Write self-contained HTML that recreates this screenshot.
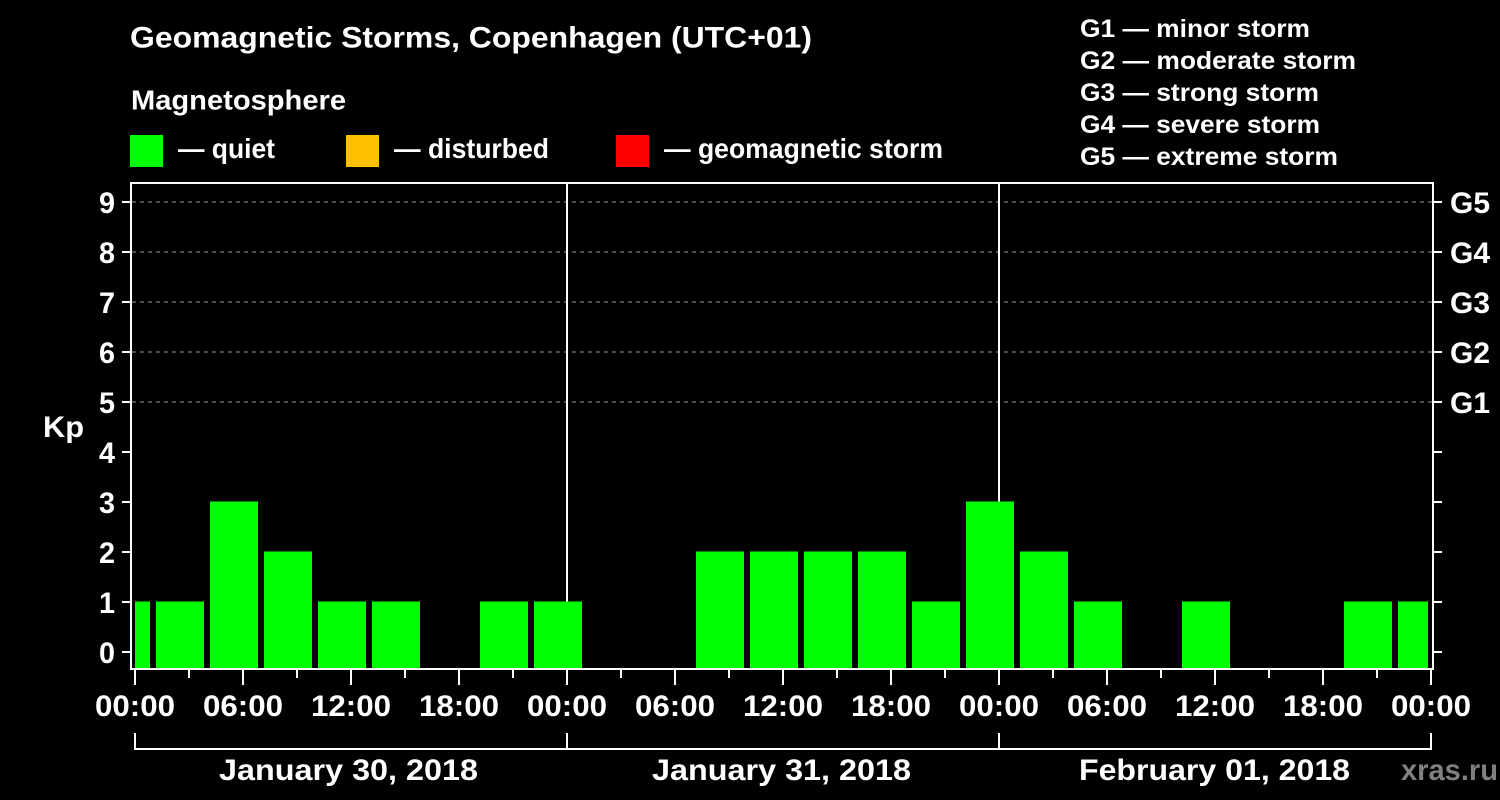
<!DOCTYPE html>
<html><head><meta charset="utf-8"><style>
html,body{margin:0;padding:0;background:#000;width:1500px;height:800px;overflow:hidden}
svg{display:block}
text{font-family:"Liberation Sans",Arial,sans-serif;font-weight:bold;fill:#fff}
</style></head><body>
<svg width="1500" height="800" viewBox="0 0 1500 800" xmlns="http://www.w3.org/2000/svg">
<rect width="1500" height="800" fill="#000"/>
<text x="130" y="47.5" font-size="30" textLength="682" lengthAdjust="spacingAndGlyphs">Geomagnetic Storms, Copenhagen (UTC+01)</text>
<text x="131" y="109.5" font-size="27.5" textLength="215" lengthAdjust="spacingAndGlyphs">Magnetosphere</text>
<rect x="130" y="135" width="33" height="32" fill="#00ff00"/>
<text x="178" y="158" font-size="27.5" textLength="97" lengthAdjust="spacingAndGlyphs">— quiet</text>
<rect x="346" y="135" width="33" height="32" fill="#ffc000"/>
<text x="394" y="158" font-size="27.5" textLength="155" lengthAdjust="spacingAndGlyphs">— disturbed</text>
<rect x="616" y="135" width="33" height="32" fill="#ff0000"/>
<text x="664" y="158" font-size="27.5" textLength="279" lengthAdjust="spacingAndGlyphs">— geomagnetic storm</text>
<text x="1080" y="37" font-size="25" textLength="230" lengthAdjust="spacingAndGlyphs">G1 — minor storm</text>
<text x="1080" y="69" font-size="25" textLength="276" lengthAdjust="spacingAndGlyphs">G2 — moderate storm</text>
<text x="1080" y="101" font-size="25" textLength="239" lengthAdjust="spacingAndGlyphs">G3 — strong storm</text>
<text x="1080" y="133" font-size="25" textLength="240" lengthAdjust="spacingAndGlyphs">G4 — severe storm</text>
<text x="1080" y="165" font-size="25" textLength="258" lengthAdjust="spacingAndGlyphs">G5 — extreme storm</text>
<g stroke="#999" stroke-width="1" stroke-dasharray="4 4" shape-rendering="crispEdges">
<line x1="132" y1="202" x2="1432" y2="202"/>
<line x1="132" y1="252" x2="1432" y2="252"/>
<line x1="132" y1="302" x2="1432" y2="302"/>
<line x1="132" y1="352" x2="1432" y2="352"/>
<line x1="132" y1="402" x2="1432" y2="402"/>
</g>
<g fill="#fff" shape-rendering="crispEdges">
<rect x="566" y="183" width="2" height="486"/>
<rect x="998" y="183" width="2" height="486"/>
</g>
<g fill="#00ff00" shape-rendering="crispEdges">
<rect x="135" y="601.5" width="15" height="66.5"/>
<rect x="156" y="601.5" width="48" height="66.5"/>
<rect x="210" y="501.5" width="48" height="166.5"/>
<rect x="264" y="551.5" width="48" height="116.5"/>
<rect x="318" y="601.5" width="48" height="66.5"/>
<rect x="372" y="601.5" width="48" height="66.5"/>
<rect x="480" y="601.5" width="48" height="66.5"/>
<rect x="534" y="601.5" width="48" height="66.5"/>
<rect x="696" y="551.5" width="48" height="116.5"/>
<rect x="750" y="551.5" width="48" height="116.5"/>
<rect x="804" y="551.5" width="48" height="116.5"/>
<rect x="858" y="551.5" width="48" height="116.5"/>
<rect x="912" y="601.5" width="48" height="66.5"/>
<rect x="966" y="501.5" width="48" height="166.5"/>
<rect x="1020" y="551.5" width="48" height="116.5"/>
<rect x="1074" y="601.5" width="48" height="66.5"/>
<rect x="1182" y="601.5" width="48" height="66.5"/>
<rect x="1344" y="601.5" width="48" height="66.5"/>
<rect x="1398" y="601.5" width="30" height="66.5"/>
</g>
<g fill="#fff" shape-rendering="crispEdges">
<rect x="130" y="182" width="2" height="488"/>
<rect x="130" y="182" width="1304" height="2"/>
<rect x="1432" y="182" width="2" height="488"/>
<rect x="130" y="668" width="1304" height="2"/>
<rect x="122" y="651" width="9" height="2"/><rect x="122" y="601" width="9" height="2"/>
<rect x="122" y="551" width="9" height="2"/><rect x="122" y="501" width="9" height="2"/>
<rect x="122" y="451" width="9" height="2"/><rect x="122" y="401" width="9" height="2"/>
<rect x="122" y="351" width="9" height="2"/><rect x="122" y="301" width="9" height="2"/>
<rect x="122" y="251" width="9" height="2"/><rect x="122" y="201" width="9" height="2"/>
<rect x="1434" y="651" width="8" height="2"/><rect x="1434" y="601" width="8" height="2"/>
<rect x="1434" y="551" width="8" height="2"/><rect x="1434" y="501" width="8" height="2"/>
<rect x="1434" y="451" width="8" height="2"/><rect x="1434" y="401" width="8" height="2"/>
<rect x="1434" y="351" width="8" height="2"/><rect x="1434" y="301" width="8" height="2"/>
<rect x="1434" y="251" width="8" height="2"/><rect x="1434" y="201" width="8" height="2"/>
<rect x="134" y="670" width="2" height="15"/><rect x="242" y="670" width="2" height="15"/>
<rect x="350" y="670" width="2" height="15"/><rect x="458" y="670" width="2" height="15"/>
<rect x="566" y="670" width="2" height="15"/><rect x="674" y="670" width="2" height="15"/>
<rect x="782" y="670" width="2" height="15"/><rect x="890" y="670" width="2" height="15"/>
<rect x="998" y="670" width="2" height="15"/><rect x="1106" y="670" width="2" height="15"/>
<rect x="1214" y="670" width="2" height="15"/><rect x="1322" y="670" width="2" height="15"/>
<rect x="1430" y="670" width="2" height="15"/>
<rect x="188" y="670" width="2" height="8"/><rect x="296" y="670" width="2" height="8"/>
<rect x="404" y="670" width="2" height="8"/><rect x="512" y="670" width="2" height="8"/>
<rect x="620" y="670" width="2" height="8"/><rect x="728" y="670" width="2" height="8"/>
<rect x="836" y="670" width="2" height="8"/><rect x="944" y="670" width="2" height="8"/>
<rect x="1052" y="670" width="2" height="8"/><rect x="1160" y="670" width="2" height="8"/>
<rect x="1268" y="670" width="2" height="8"/><rect x="1376" y="670" width="2" height="8"/>
<rect x="134" y="748" width="1298" height="2"/>
<rect x="134" y="733" width="2" height="17"/><rect x="566" y="733" width="2" height="17"/>
<rect x="998" y="733" width="2" height="17"/><rect x="1430" y="733" width="2" height="17"/>
</g>
<g font-size="30" text-anchor="end">
<text x="115" y="663" textLength="16" lengthAdjust="spacingAndGlyphs">0</text><text x="115" y="613" textLength="16" lengthAdjust="spacingAndGlyphs">1</text><text x="115" y="563" textLength="16" lengthAdjust="spacingAndGlyphs">2</text>
<text x="115" y="513" textLength="16" lengthAdjust="spacingAndGlyphs">3</text><text x="115" y="463" textLength="16" lengthAdjust="spacingAndGlyphs">4</text><text x="115" y="413" textLength="16" lengthAdjust="spacingAndGlyphs">5</text>
<text x="115" y="363" textLength="16" lengthAdjust="spacingAndGlyphs">6</text><text x="115" y="313" textLength="16" lengthAdjust="spacingAndGlyphs">7</text><text x="115" y="263" textLength="16" lengthAdjust="spacingAndGlyphs">8</text>
<text x="115" y="213" textLength="16" lengthAdjust="spacingAndGlyphs">9</text>
</g>
<g font-size="30">
<text x="1450" y="413" textLength="40" lengthAdjust="spacingAndGlyphs">G1</text>
<text x="1450" y="363" textLength="40" lengthAdjust="spacingAndGlyphs">G2</text>
<text x="1450" y="313" textLength="40" lengthAdjust="spacingAndGlyphs">G3</text>
<text x="1450" y="263" textLength="40" lengthAdjust="spacingAndGlyphs">G4</text>
<text x="1450" y="213" textLength="40" lengthAdjust="spacingAndGlyphs">G5</text>
<text x="43" y="437" textLength="41" lengthAdjust="spacingAndGlyphs">Kp</text>
</g>
<g font-size="30" text-anchor="middle">
<text x="135" y="716" textLength="80" lengthAdjust="spacingAndGlyphs">00:00</text>
<text x="243" y="716" textLength="80" lengthAdjust="spacingAndGlyphs">06:00</text>
<text x="351" y="716" textLength="80" lengthAdjust="spacingAndGlyphs">12:00</text>
<text x="459" y="716" textLength="80" lengthAdjust="spacingAndGlyphs">18:00</text>
<text x="567" y="716" textLength="80" lengthAdjust="spacingAndGlyphs">00:00</text>
<text x="675" y="716" textLength="80" lengthAdjust="spacingAndGlyphs">06:00</text>
<text x="783" y="716" textLength="80" lengthAdjust="spacingAndGlyphs">12:00</text>
<text x="891" y="716" textLength="80" lengthAdjust="spacingAndGlyphs">18:00</text>
<text x="999" y="716" textLength="80" lengthAdjust="spacingAndGlyphs">00:00</text>
<text x="1107" y="716" textLength="80" lengthAdjust="spacingAndGlyphs">06:00</text>
<text x="1215" y="716" textLength="80" lengthAdjust="spacingAndGlyphs">12:00</text>
<text x="1323" y="716" textLength="80" lengthAdjust="spacingAndGlyphs">18:00</text>
<text x="1431" y="716" textLength="80" lengthAdjust="spacingAndGlyphs">00:00</text>
<text x="348.5" y="780" textLength="259" lengthAdjust="spacingAndGlyphs">January 30, 2018</text>
<text x="781.5" y="780" textLength="259" lengthAdjust="spacingAndGlyphs">January 31, 2018</text>
<text x="1214.5" y="780" textLength="271" lengthAdjust="spacingAndGlyphs">February 01, 2018</text>
</g>
<text x="1401" y="780" font-size="30" textLength="97" lengthAdjust="spacingAndGlyphs" style="fill:#808080">xras.ru</text>
</svg>
</body></html>
